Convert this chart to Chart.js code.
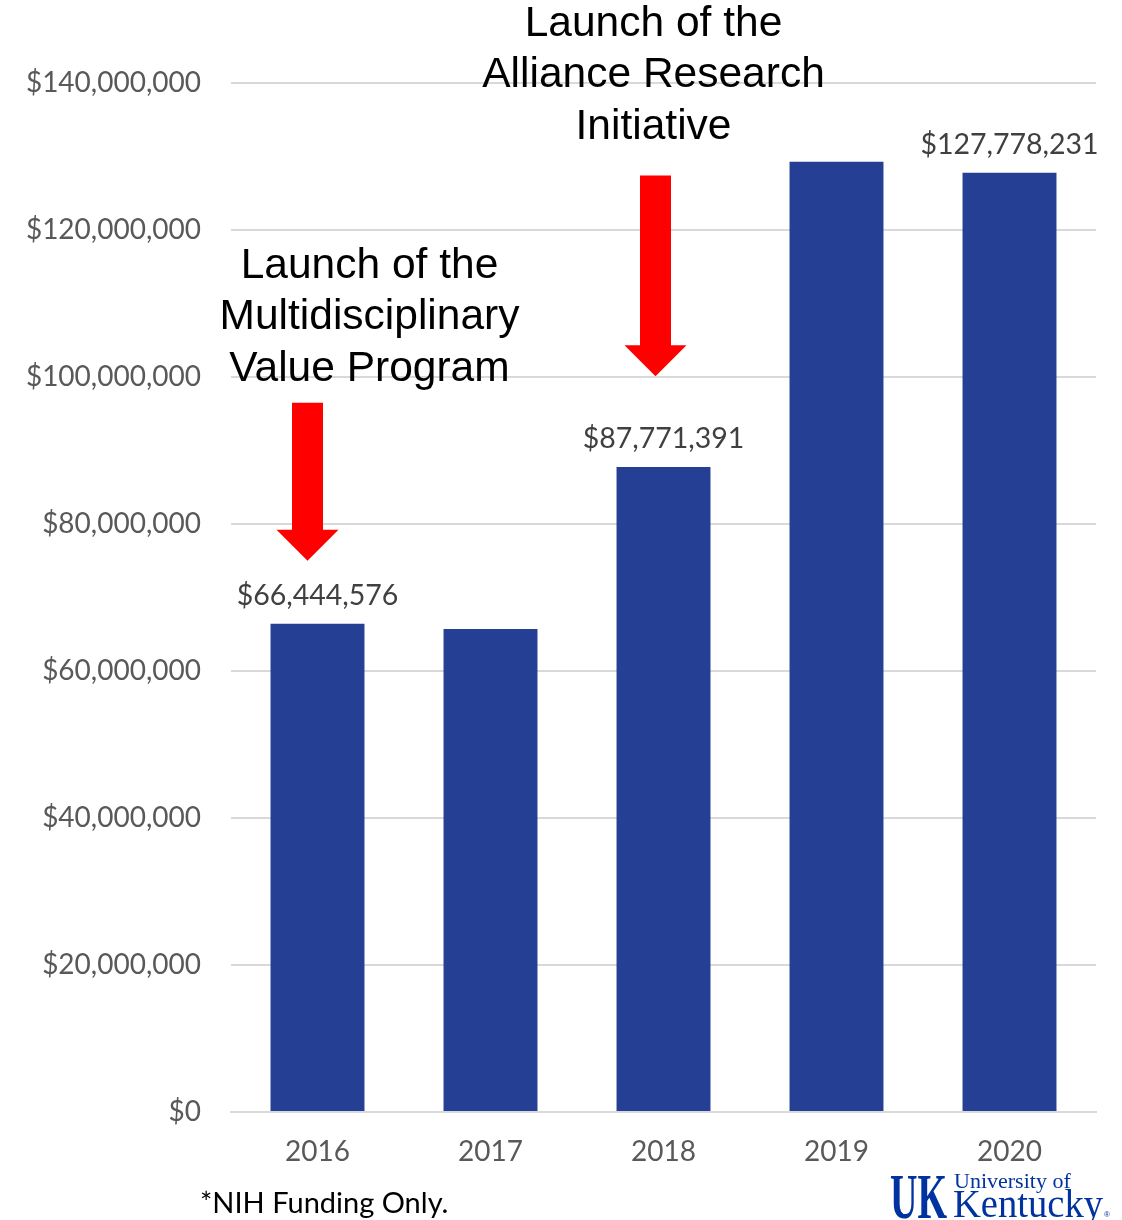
<!DOCTYPE html>
<html>
<head>
<meta charset="utf-8">
<title>NIH Funding</title>
<script src="https://cdn.jsdelivr.net/npm/chart.js@4/dist/chart.umd.min.js"></script>
<style>
    html, body { margin: 0; padding: 0; background: #ffffff; }
    #wrap { position: relative; width: 1122px; height: 1220px; }
</style>
</head>
<body>
<div id="wrap"><canvas id="fundingChart" width="1122" height="1220"></canvas></div>
<script>
let years = ['2016', '2017', '2018', '2019', '2020'];
let funding = [66444576, 65700000, 87771391, 129300000, 127778231];
let labelledYears = ['2016', '2018', '2020'];
let yTicks = [0, 20000000, 40000000, 60000000, 80000000, 100000000, 120000000, 140000000];

// callouts pointing at a year: caption lines, caption top, arrow top and tip (in dollars)
let callouts = [
    { year: '2016', shift: -10, textDx: 62, lines: ['Launch of the', 'Multidisciplinary', 'Value Program'], textTop: 115100000, arrowTop: 96500000, arrowTip: 75000000 },
    { year: '2018', shift: -8, textDx: -2, lines: ['Launch of the', 'Alliance Research', 'Initiative'], textTop: 148000000, arrowTop: 127400000, arrowTip: 100100000 }
];

const fmt = v => '$' + Math.round(v).toLocaleString('en-US');
const labelFont = 'Lato, "Open Sans", sans-serif';

const extras = {
    id: 'extras',
    afterDatasetsDraw(chart) {
        let ctx = chart.ctx;
        let x = chart.scales.x, y = chart.scales.y;
        ctx.save();

        // value labels above the selected bars
        ctx.fillStyle = '#404040';
        ctx.font = '28.5px ' + labelFont;
        ctx.textAlign = 'center';
        ctx.textBaseline = 'bottom';
        years.forEach((yr, i) => {
            if (!labelledYears.includes(yr)) return;
            ctx.fillText(fmt(funding[i]), x.getPixelForValue(i), y.getPixelForValue(funding[i]) - 14);
        });

        // red arrows with their captions
        callouts.forEach(c => {
            let cx = x.getPixelForValue(years.indexOf(c.year)) + c.shift;
            let top = y.getPixelForValue(c.arrowTop);
            let tip = y.getPixelForValue(c.arrowTip);
            let headH = 31;
            ctx.fillStyle = '#ff0000';
            ctx.beginPath();
            ctx.moveTo(cx - 15.5, top);
            ctx.lineTo(cx + 15.5, top);
            ctx.lineTo(cx + 15.5, tip - headH);
            ctx.lineTo(cx + 31, tip - headH);
            ctx.lineTo(cx, tip);
            ctx.lineTo(cx - 31, tip - headH);
            ctx.lineTo(cx - 15.5, tip - headH);
            ctx.closePath();
            ctx.fill();

            ctx.fillStyle = '#000000';
            ctx.font = '42.5px "Liberation Sans", Arial, sans-serif';
            ctx.textBaseline = 'middle';
            let ty = y.getPixelForValue(c.textTop);
            c.lines.forEach((ln, k) => {
                ctx.fillText(ln, cx + c.textDx, ty + k * 51.5);
            });
        });

        // footnote
        ctx.fillStyle = '#000000';
        ctx.font = '29px ' + labelFont;
        ctx.textAlign = 'left';
        ctx.textBaseline = 'middle';
        ctx.fillText('*NIH Funding Only.', 200, 1204);

        // university mark
        ctx.fillStyle = '#0033a0';
        ctx.textBaseline = 'alphabetic';
        ctx.font = 'bold 54px "Liberation Serif", serif';
        let ukW = ctx.measureText('UK').width;
        ctx.save();
        ctx.translate(890, 1218);
        ctx.scale(57 / ukW, 1.18);
        ctx.fillText('UK', 0, 0);
        ctx.restore();
        ctx.font = '22px "Liberation Serif", serif';
        ctx.fillText('University of', 954, 1188);
        ctx.font = '40px "Liberation Serif", serif';
        let kW = ctx.measureText('Kentucky').width;
        ctx.save();
        ctx.translate(953, 1217);
        ctx.scale(150 / kW, 1);
        ctx.fillText('Kentucky', 0, 0);
        ctx.restore();
        ctx.font = '8px sans-serif';
        ctx.fillText('®', 1104, 1217);
        ctx.restore();
    }
};

let ctx = document.getElementById('fundingChart').getContext('2d');
let chart = new Chart(ctx, {
    type: 'bar',
    data: {
        labels: years,
        datasets: [{
            label: 'NIH Funding',
            data: funding,
            backgroundColor: '#253f95',
            borderWidth: 0,
            categoryPercentage: 1,
            barPercentage: 0.543
        }]
    },
    options: {
        responsive: false,
        animation: false,
        layout: { padding: { top: 83, right: 26, left: 0, bottom: 0 } },
        plugins: { legend: { display: false }, tooltip: { enabled: false } },
        scales: {
            x: {
                grid: { display: false },
                border: { color: '#d9d9d9', width: 2 },
                ticks: { color: '#595959', font: { family: labelFont, size: 28 }, padding: 15 },
                afterFit(scale) { scale.height = 108; }
            },
            y: {
                min: 0,
                max: 140000000,
                afterBuildTicks(scale) { scale.ticks = yTicks.map(v => ({ value: v })); },
                grid: { color: '#d9d9d9', lineWidth: 2, drawTicks: false },
                border: { display: false },
                ticks: { color: '#595959', font: { family: labelFont, size: 28 }, padding: 30, callback: v => fmt(v) },
                afterFit(scale) { scale.width = 231; }
            }
        }
    },
    plugins: [extras]
});
</script>
</body>
</html>
